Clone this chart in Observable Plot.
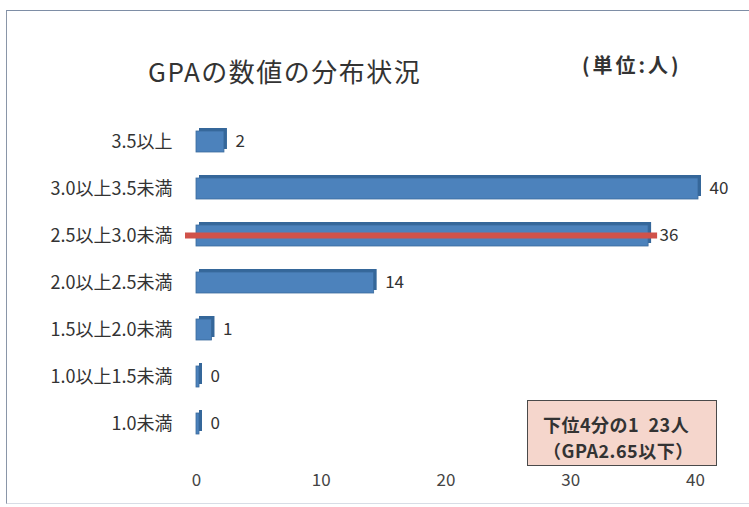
<!DOCTYPE html>
<html>
<head>
<meta charset="utf-8">
<script src="https://cdn.jsdelivr.net/npm/d3@7"></script>
<script src="https://cdn.jsdelivr.net/npm/@observablehq/plot@0.6"></script>
<style>
  html, body { margin: 0; padding: 0; background: #fff; }
  #wrap { position: relative; width: 749px; height: 507px; overflow: hidden;
          font-family: "Noto Sans CJK JP", "Noto Sans", sans-serif; color: #333; }
  #frame { position: absolute; left: 6px; top: 10px; width: 760px; height: 492px;
           border-left: 1.5px solid #8a96a8; border-top: 1.5px solid #7e8ea6; border-bottom: 1px solid #d8dde6; }
  #title { position: absolute; left: 148px; top: 52px; font-size: 26px; color: #333; letter-spacing: 1.5px; }
  #unit { position: absolute; left: 582px; top: 50px; font-size: 20px; font-weight: bold; color: #333; letter-spacing: 3px; }
  #note { position: absolute; left: 527px; top: 400px; width: 190px; height: 66px; box-sizing: border-box;
          background: #f5d6cc; border: 1.5px solid #4a4a4a; font-size: 18px; font-weight: bold; color: #333;
          padding: 10px 0 0 15px; letter-spacing: 0.5px; }
  #note div { height: 26px; line-height: 26px; overflow: visible; }
  #chart { position: absolute; left: 0; top: 0; }
</style>
</head>
<body>
<div id="wrap">
  <div id="frame"></div>
  <div id="chart"></div>
  <div id="title">GPAの数値の分布状況</div>
  <div id="unit">(単位:人)</div>
  <div id="note"><div>下位4分の1&nbsp;&nbsp;23人</div><div>（GPA2.65以下）</div></div>
</div>
<script>
const categories = ["3.5以上", "3.0以上3.5未満", "2.5以上3.0未満", "2.0以上2.5未満", "1.5以上2.0未満", "1.0以上1.5未満", "1.0未満"];
const counts = [2, 40, 36, 14, 1, 0, 0];
const xTicks = [0, 10, 20, 30, 40];
const highlightRow = "2.5以上3.0未満";

const data = categories.map((c, i) => ({category: c, value: counts[i]}));
const highlighted = data.filter(d => d.category === highlightRow);

const chart = Plot.plot({
  width: 749,
  height: 507,
  marginLeft: 196,
  marginRight: 54,
  marginTop: 117,
  marginBottom: 59,
  style: {fontFamily: "'Noto Sans CJK JP', 'Noto Sans', sans-serif", background: "transparent", color: "#333"},
  x: {domain: [0, 40], ticks: xTicks, label: null, axis: null},
  y: {domain: categories, label: null, paddingInner: 0.55, paddingOuter: 0.275, axis: null},
  marks: [
    // depth face of 3D bars
    Plot.barX(data, {x1: 0, x2: "value", y: "category", fill: "#35679a", dx: 3, dy: -3, insetRight: -3}),
    // front face
    Plot.barX(data, {x1: 0, x2: "value", y: "category", fill: "#4c82bc", stroke: "#3a6a9c", strokeWidth: 0.8, insetRight: -3}),
    // highlight line
    Plot.barX(highlighted, {x1: 0, x2: "value", y: "category", fill: "#d0524a", insetTop: 7.5, insetBottom: 7.5, insetLeft: -11, insetRight: -12}),
    // value labels
    Plot.text(data, {x: "value", y: "category", text: d => String(d.value), textAnchor: "start", dx: 14, fontSize: 17, fill: "#333"}),
    Plot.axisY({tickSize: 0, tickPadding: 24, fontSize: 18, label: null, color: "#333", style: {letterSpacing: "0.5px"}}),
    Plot.axisX({ticks: xTicks, tickSize: 0, tickPadding: 25, fontSize: 17, label: null, color: "#444", anchor: "bottom"})
  ]
});
document.getElementById("chart").appendChild(chart);
</script>
</body>
</html>
